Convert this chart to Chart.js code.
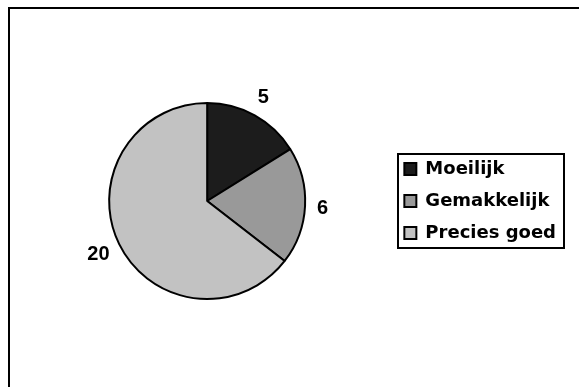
<!DOCTYPE html>
<html>
<head>
<meta charset="utf-8">
<script src="https://cdn.jsdelivr.net/npm/chart.js@4/dist/chart.umd.min.js"></script>
<style>
  html, body { margin: 0; padding: 0; background: #ffffff; }
  #wrap { width: 579px; height: 387px; position: relative; }
</style>
</head>
<body>
<div id="wrap"><canvas id="c" width="579" height="387"></canvas></div>
<script>
// Survey answers: how difficult was it?
const categories = ['Moeilijk', 'Gemakkelijk', 'Precies goed'];
const counts = [5, 6, 20];
const sliceColors = ['#1c1c1c', '#999999', '#c2c2c2'];

// Frame lines along the top and left edge of the canvas
const framePlugin = {
  id: 'frame',
  beforeDraw(chart) {
    const ctx = chart.ctx;
    ctx.save();
    ctx.fillStyle = '#ffffff';
    ctx.fillRect(0, 0, chart.width, chart.height);
    ctx.strokeStyle = '#000000';
    ctx.lineWidth = 2;
    ctx.beginPath();
    ctx.moveTo(9, chart.height);
    ctx.lineTo(9, 8);
    ctx.lineTo(chart.width, 8);
    ctx.stroke();
    ctx.restore();
  }
};

// Box drawn around the legend items
const legendBoxPlugin = {
  id: 'legendBox',
  afterDraw(chart) {
    const lg = chart.legend;
    if (!lg || !lg.legendHitBoxes || !lg.legendHitBoxes.length) return;
    const hb = lg.legendHitBoxes;
    let l = Infinity, r = -Infinity, t = Infinity, b = -Infinity;
    hb.forEach(h => {
      l = Math.min(l, h.left);
      r = Math.max(r, h.left + h.width);
      t = Math.min(t, h.top);
      b = Math.max(b, h.top + h.height);
    });
    const ctx = chart.ctx;
    ctx.save();
    ctx.strokeStyle = '#000000';
    ctx.lineWidth = 2;
    ctx.strokeRect(Math.round(l - 6), Math.round(t - 6), Math.round(r - l + 14), Math.round(b - t + 12));
    ctx.restore();
  }
};

// Value labels just outside each slice
const valueLabelPlugin = {
  id: 'valueLabels',
  afterDatasetsDraw(chart) {
    const ctx = chart.ctx;
    const meta = chart.getDatasetMeta(0);
    const ds = chart.data.datasets[0];
    ctx.save();
    ctx.font = 'bold 20px "Liberation Sans", Arial, sans-serif';
    ctx.fillStyle = '#000000';
    ctx.textAlign = 'center';
    ctx.textBaseline = 'middle';
    meta.data.forEach((arc, i) => {
      const p = arc.getProps(['x', 'y', 'startAngle', 'endAngle', 'outerRadius'], true);
      const mid = (p.startAngle + p.endAngle) / 2;
      const ux = Math.cos(mid), uy = Math.sin(mid);
      const text = String(ds.data[i]);
      const w = ctx.measureText(text).width;
      const h = 20;
      const gap = 12;
      const x = p.x + ux * (p.outerRadius + gap) + ux * w / 2;
      const y = p.y + uy * (p.outerRadius + gap) + uy * h / 2 + 1;
      ctx.fillText(text, x, y);
    });
    ctx.restore();
  }
};

new Chart(document.getElementById('c'), {
  type: 'pie',
  data: {
    labels: categories,
    datasets: [{
      data: counts,
      backgroundColor: sliceColors,
      borderColor: '#000000',
      borderWidth: 2,
      radius: 98
    }]
  },
  options: {
    responsive: false,
    animation: false,
    layout: { padding: { left: 24, right: 13, top: 31, bottom: 16 } },
    plugins: {
      tooltip: { enabled: false },
      legend: {
        position: 'right',
        align: 'center',
        labels: {
          color: '#000000',
          font: { family: '"DejaVu Sans", Verdana, sans-serif', size: 18, weight: 'bold' },
          boxWidth: 12,
          boxHeight: 12,
          padding: 14
        }
      }
    }
  },
  plugins: [framePlugin, legendBoxPlugin, valueLabelPlugin]
});
</script>
</body>
</html>
